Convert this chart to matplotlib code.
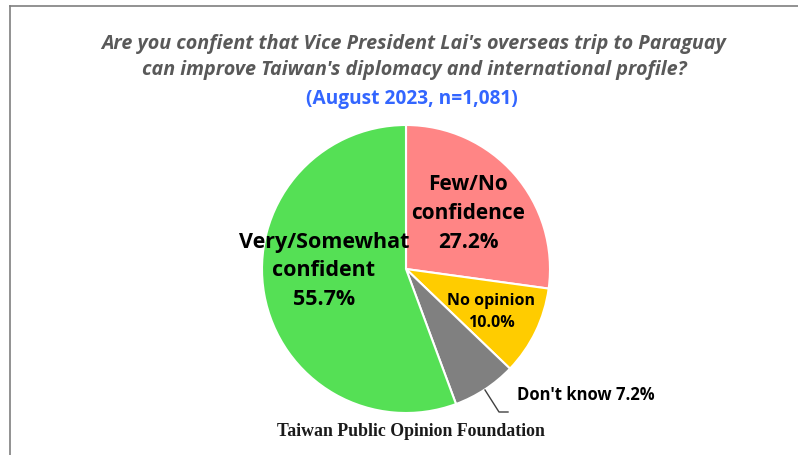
import matplotlib
matplotlib.use("Agg")
import matplotlib.pyplot as plt
from matplotlib.lines import Line2D

categories = ["Few/No\nconfidence", "No opinion", "Don't know", "Very/Somewhat\nconfident"]
values = [27.2, 10.0, 7.2, 55.7]
colors = ["#FF8585", "#FFCC00", "#808080", "#55E055"]

W, H = 798, 456
fig = plt.figure(figsize=(W / 100, H / 100), dpi=100)
fig.patch.set_facecolor("white")

# border (top and left)
fig.add_artist(Line2D([10 / W, 1], [1 - 7 / H, 1 - 7 / H], color="#7f7f7f", lw=1.2))
fig.add_artist(Line2D([10 / W, 10 / W], [0, 1 - 7 / H], color="#7f7f7f", lw=1.2))

cx, cy, r = 406, 270, 144
ax = fig.add_axes([(cx - r) / W, (H - cy - r) / H, 2 * r / W, 2 * r / H])
wedges, _ = ax.pie(values, colors=colors, startangle=90, counterclock=False, radius=1,
                   wedgeprops=dict(edgecolor="white", linewidth=1.5))
ax.set_xlim(-1, 1)
ax.set_ylim(-1, 1)
ax.set_aspect("equal")
ax.axis("off")

font = "Open Sans"

def px(x, y):
    return ((x - cx) / r, (cy - y) / r)

ax.text(*px(468, 214), f"{categories[0]}\n{values[0]:.1f}%", ha="center", va="center",
        fontsize=15, fontweight="bold", family=font, linespacing=1.5)
ax.text(*px(324, 271), f"{categories[3]}\n{values[3]:.1f}%", ha="center", va="center",
        fontsize=15.5, fontweight="bold", family=font, linespacing=1.45)
ax.text(*px(491, 312), f"{categories[1]}\n{values[1]:.1f}%", ha="center", va="center",
        fontsize=11.5, fontweight="bold", family=font, linespacing=1.45)
ax.text(*px(517, 395), f"{categories[2]} {values[2]:.1f}%", ha="left", va="center",
        fontsize=12, fontweight="bold", family=font)
lx, ly = zip(px(485, 391), px(499, 413), px(508, 413))
ax.plot(lx, ly, color="#404040", lw=1, clip_on=False)

fig.text(414 / W, 1 - 44 / H, "Are you confient that Vice President Lai's overseas trip to Paraguay",
         ha="center", va="center", fontsize=14.2, fontweight="bold", style="italic",
         color="#595959", family=font)
fig.text(414 / W, 1 - 70 / H, "can improve Taiwan's diplomacy and international profile?",
         ha="center", va="center", fontsize=14.2, fontweight="bold", style="italic",
         color="#595959", family=font)
fig.text(412 / W, 1 - 99 / H, "(August 2023, n=1,081)", ha="center", va="center",
         fontsize=13.8, fontweight="bold", color="#3366FF", family=font)
fig.text(411 / W, 1 - 432 / H, "Taiwan Public Opinion Foundation", ha="center", va="center",
         fontsize=12.8, fontweight="bold", color="#1a1a1a", family="Liberation Serif")

fig.savefig("out.png", dpi=100)
